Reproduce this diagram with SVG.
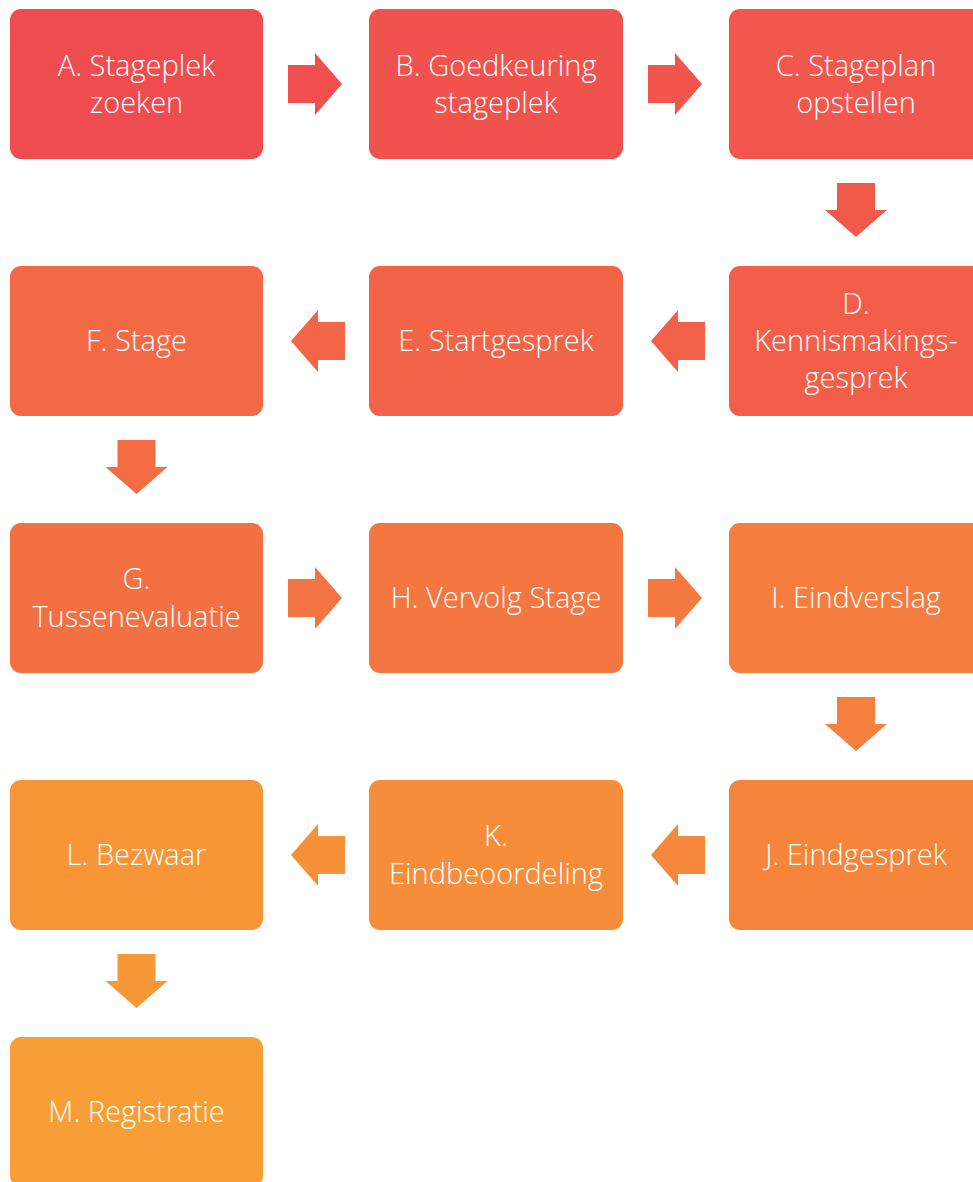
<svg xmlns="http://www.w3.org/2000/svg" width="973" height="1182" viewBox="0 0 973 1182">
<style>
.box{stroke:none}
.t{font-family:"Open Sans","Noto Sans","Liberation Sans",sans-serif;font-weight:300;font-size:29px;fill:#ffffff;text-anchor:middle}
</style>
<defs>
<path id="ar" d="M0,-19 H27 V-31 L54,0 L27,31 V19 H0 Z"/>
</defs>
<rect width="973" height="1182" fill="#ffffff"/>
<g id="connectors">
<use href="#ar" transform="translate(288,84)" fill="#F04F4E"/>
<use href="#ar" transform="translate(648,84)" fill="#F1554C"/>
<use href="#ar" transform="translate(856,183) rotate(90)" fill="#F15A4B"/>
<use href="#ar" transform="translate(705,341) rotate(180)" fill="#F26049"/>
<use href="#ar" transform="translate(345,341) rotate(180)" fill="#F36647"/>
<use href="#ar" transform="translate(136.5,440) rotate(90)" fill="#F36C44"/>
<use href="#ar" transform="translate(288,598)" fill="#F47342"/>
<use href="#ar" transform="translate(648,598)" fill="#F57A40"/>
<use href="#ar" transform="translate(856,697) rotate(90)" fill="#F5803E"/>
<use href="#ar" transform="translate(705,855) rotate(180)" fill="#F6883C"/>
<use href="#ar" transform="translate(345,855) rotate(180)" fill="#F69039"/>
<use href="#ar" transform="translate(136.5,954) rotate(90)" fill="#F79837"/>
</g>
<g id="nodeA"><rect class="box" x="10" y="9" width="253" height="150" rx="11" fill="#EF4C4F"/><text class="t" x="136.5" y="76">A. Stageplek</text><text class="t" x="136.5" y="113">zoeken</text></g>
<g id="nodeB"><rect class="box" x="369" y="9" width="254" height="150" rx="11" fill="#F0524E"/><text class="t" x="496" y="76">B. Goedkeuring</text><text class="t" x="496" y="113">stageplek</text></g>
<g id="nodeC"><rect class="box" x="729" y="9" width="254" height="150" rx="11" fill="#F1574C"/><text class="t" x="856" y="76">C. Stageplan</text><text class="t" x="856" y="113">opstellen</text></g>
<g id="nodeD"><rect class="box" x="729" y="266" width="254" height="150" rx="11" fill="#F25E4A"/><text class="t" x="856" y="314">D.</text><text class="t" x="856" y="351">Kennismakings-</text><text class="t" x="856" y="388">gesprek</text></g>
<g id="nodeE"><rect class="box" x="369" y="266" width="254" height="150" rx="11" fill="#F26348"/><text class="t" x="496" y="351">E. Startgesprek</text></g>
<g id="nodeF"><rect class="box" x="10" y="266" width="253" height="150" rx="11" fill="#F36946"/><text class="t" x="136.5" y="351">F. Stage</text></g>
<g id="nodeG"><rect class="box" x="10" y="523" width="253" height="150" rx="11" fill="#F37043"/><text class="t" x="136.5" y="589">G.</text><text class="t" x="136.5" y="627">Tussenevaluatie</text></g>
<g id="nodeH"><rect class="box" x="369" y="523" width="254" height="150" rx="11" fill="#F47641"/><text class="t" x="496" y="608">H. Vervolg Stage</text></g>
<g id="nodeI"><rect class="box" x="729" y="523" width="254" height="150" rx="11" fill="#F57D3F"/><text class="t" x="856" y="608">I. Eindverslag</text></g>
<g id="nodeJ"><rect class="box" x="729" y="780" width="254" height="150" rx="11" fill="#F6853C"/><text class="t" x="856" y="865">J. Eindgesprek</text></g>
<g id="nodeK"><rect class="box" x="369" y="780" width="254" height="150" rx="11" fill="#F68D3A"/><text class="t" x="496" y="846">K.</text><text class="t" x="496" y="884">Eindbeoordeling</text></g>
<g id="nodeL"><rect class="box" x="10" y="780" width="253" height="150" rx="11" fill="#F79537"/><text class="t" x="136.5" y="865">L. Bezwaar</text></g>
<g id="nodeM"><rect class="box" x="10" y="1037" width="253" height="150" rx="11" fill="#F79F36"/><text class="t" x="136.5" y="1122">M. Registratie</text></g>
</svg>
